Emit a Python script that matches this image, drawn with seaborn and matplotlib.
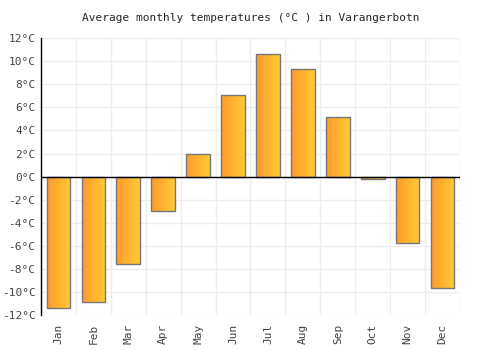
import numpy as np
import pandas as pd
import matplotlib
matplotlib.use('Agg')
import matplotlib.pyplot as plt
import seaborn as sns
from matplotlib.colors import LinearSegmentedColormap

# --- data ---
months = ['Jan', 'Feb', 'Mar', 'Apr', 'May', 'Jun', 'Jul', 'Aug', 'Sep', 'Oct', 'Nov', 'Dec']
temps = [-11.4, -10.9, -7.6, -3.0, 2.0, 7.1, 10.6, 9.3, 5.2, -0.2, -5.8, -9.7]
yticks = list(range(-12, 13, 2))

df = pd.DataFrame({'month': months, 'temp': temps})

sns.set_style('white')
plt.rcParams['font.family'] = ['DejaVu Sans Mono']

fig = plt.figure(figsize=(5, 3.5), dpi=100)
ax = fig.add_axes([0.082, 0.1, 0.838, 0.791])

sns.barplot(data=df, x='month', y='temp', ax=ax, width=0.68,
            color='#FFB030', edgecolor='#777777', linewidth=1, zorder=3)

# gradient fill, orange -> yellow left to right
cmap = LinearSegmentedColormap.from_list('og', ['#FF9A2E', '#FFCB33'])
grad = np.linspace(0, 1, 64).reshape(1, -1)
for p in ax.patches:
    x0, y0 = p.get_x(), p.get_y()
    w, h = p.get_width(), p.get_height()
    im = ax.imshow(grad, cmap=cmap, aspect='auto', zorder=3.5,
                   extent=[x0, x0 + w, min(y0, y0 + h), max(y0, y0 + h)])
    im.set_clip_path(p)
    p.set_facecolor('none')
    p.set_zorder(4)

ax.set_xlim(-0.5, 11.5)
ax.set_ylim(-12, 12)
ax.set_yticks(yticks)
ax.set_yticklabels([f'{t}°C' for t in yticks])
ax.set_xticks(np.arange(-0.5, 12, 1), minor=True)
ax.grid(False)
ax.grid(True, which='minor', axis='x', color='#eeeeee', linewidth=1, zorder=0)
ax.grid(True, which='major', axis='y', color='#eeeeee', linewidth=1, zorder=0)
ax.tick_params(axis='x', which='both', length=0, rotation=90, labelsize=8, colors='#444444', pad=6)
ax.tick_params(axis='y', length=0, labelsize=8, colors='#444444', pad=4)
ax.axhline(0, color='black', linewidth=1, zorder=5)

for s in ['top', 'right', 'bottom']:
    ax.spines[s].set_visible(False)
ax.spines['left'].set_color('black')
ax.spines['left'].set_linewidth(1)

ax.set_xlabel('')
ax.set_ylabel('')
ax.set_title('Average monthly temperatures (°C ) in Varangerbotn', fontsize=8, pad=12)

fig.savefig('out.png', dpi=100)
